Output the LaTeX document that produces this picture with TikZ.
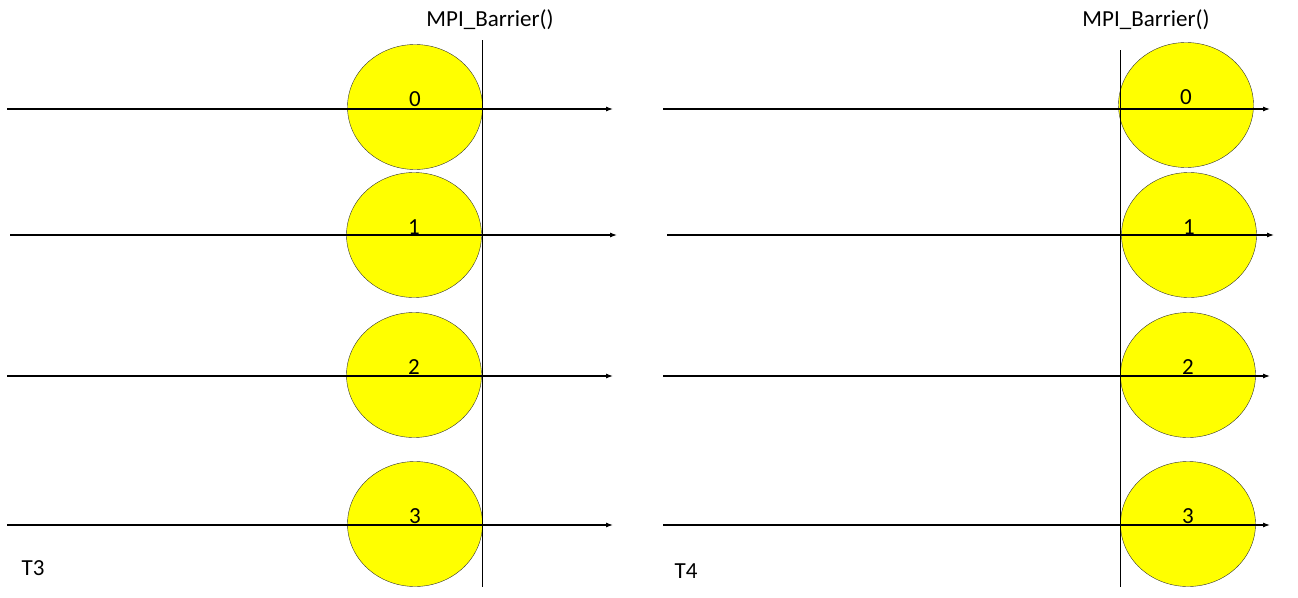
\documentclass[tikz,border=0pt]{standalone}
\usepackage{fontspec}
\setmainfont{Carlito}
\usetikzlibrary{shapes.geometric,arrows.meta}
\definecolor{pyellow}{RGB}{255,255,0}
\begin{document}
\begin{tikzpicture}[x=1pt,y=-1pt,
  proc/.style={ellipse,draw=black!80,fill=pyellow,minimum width=135pt,minimum height=125pt,inner sep=0pt},
  num/.style={font=\fontsize{23}{27}\selectfont},
  lbl/.style={font=\fontsize{23}{27}\selectfont},
  tl/.style={-{Latex[length=7pt,width=5pt]},line width=1.1pt}]
\useasboundingbox (0,0) rectangle (1298,597);
\foreach \n/\x/\y in {a0/415/107,a1/414/235,a2/414/375,a3/415/524,b0/1186/105,b1/1189/235,b2/1188/375,b3/1188/524}
  \node[proc] (\n) at (\x,\y) {};
\foreach \n/\t in {a0/0,a1/1,a2/2,a3/3,b0/0,b1/1,b2/2,b3/3}
  \node[num] at ([yshift=8pt]\n.center) {\t};
\foreach \n/\a/\b/\y in {l0/7/613/109,l1/10/617/235,l2/7/613/376,l3/7/613/525,r0/663/1270/109,r1/667/1274/235,r2/663/1270/376,r3/663/1270/525}{
  \coordinate (\n s) at (\a,\y); \coordinate (\n e) at (\b,\y);
  \draw[tl] (\n s) -- (\n e);}
\coordinate (ba1) at (482,40); \coordinate (ba2) at (482,587);
\coordinate (bb1) at (1120,50); \coordinate (bb2) at (1120,587);
\draw (ba1) -- (ba2);
\draw (bb1) -- (bb2);
\node[lbl] (m1) at (490,20) {MPI\_Barrier()};
\node[lbl] (m2) at (1146,20) {MPI\_Barrier()};
\node[lbl] (t3) at (33,568) {T3};
\node[lbl] (t4) at (686,571) {T4};
\end{tikzpicture}
\end{document}
